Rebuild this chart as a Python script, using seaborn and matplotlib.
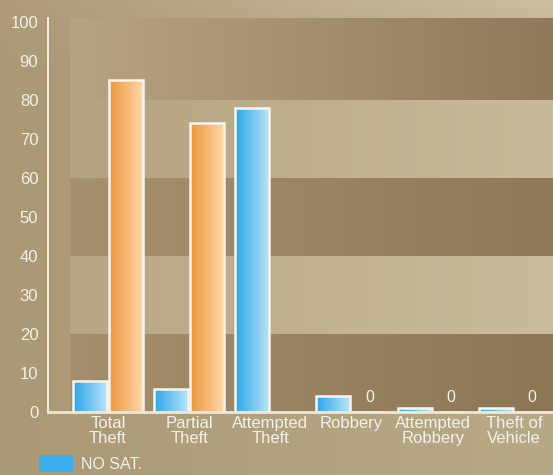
import numpy as np
import pandas as pd
import matplotlib
matplotlib.use("Agg")
import matplotlib.pyplot as plt
import seaborn as sns
from matplotlib.patches import Patch
from matplotlib.colors import to_rgb

# ---------------- data ----------------
categories = ["Total\nTheft", "Partial\nTheft", "Attempted\nTheft", "Robbery",
              "Attempted\nRobbery", "Theft of\nVehicle"]
series = ["NO SAT.", "SAT."]
no_sat = [8, 6, 78, 4, 1, 1]
sat = [85, 74, np.nan, 0, 0, 0]
yticks = [0, 10, 20, 30, 40, 50, 60, 70, 80, 90, 100]

df = pd.DataFrame({
    "category": categories * 2,
    "series": [series[0]] * len(categories) + [series[1]] * len(categories),
    "value": no_sat + sat,
})

# ---------------- style ----------------
sns.set_theme(style="white")
plt.rcParams["font.family"] = ["Liberation Sans", "DejaVu Sans"]
TEXT = "#f4f1e8"
FS = 11.5

W, H = 553, 475
fig = plt.figure(figsize=(W / 100, H / 100), dpi=100)


def lerp(c1, c2, t):
    a, b = np.array(to_rgb(c1)), np.array(to_rgb(c2))
    t = np.asarray(t)[..., None]
    return a * (1 - t) + b * t


# figure background gradient (lighter at top right)
bg = fig.add_axes([0, 0, 1, 1], zorder=-10)
yy, xx = np.mgrid[0:1:120j, 0:1:140j]
top = lerp("#ae9a77", "#cbbf9f", xx)
bot = lerp("#ab9875", "#b9aa87", xx)
ty = np.clip((yy - 0.85) / 0.15, 0, 1)
img = top * ty[..., None] + bot * (1 - ty[..., None])
bg.imshow(img, extent=(0, 1, 0, 1), origin="lower", aspect="auto")
bg.set_axis_off()

# main axes
x_left_px, x_right_px = 48, 553
y_bottom_px, y_top_px = 412, 18
ax = fig.add_axes([x_left_px / W, (H - y_bottom_px) / H,
                   (x_right_px - x_left_px) / W, (y_bottom_px - y_top_px) / H])
ax.set_facecolor("none")

# striped plot-area background
band_cols = [("#a48f6c", "#8d7655"), ("#b8a785", "#cabc9a"), ("#a6916e", "#8f7858"),
             ("#b4a381", "#c9bb99"), ("#b7a483", "#907959")]
ymax = 101
rows = np.linspace(0, ymax, 404)
cols = np.linspace(0, 1, 200)
band_img = np.zeros((len(rows), len(cols), 3))
for i, v in enumerate(rows):
    k = min(int(v // 20), 4)
    band_img[i] = lerp(band_cols[k][0], band_cols[k][1], cols)
ax.imshow(band_img, extent=(22 / 505, 1, 0, 1), origin="lower", aspect="auto",
          transform=ax.transAxes, zorder=0)

palette = {"NO SAT.": "#3aaeee", "SAT.": "#f4a656"}
sns.barplot(data=df, x="category", y="value", hue="series", palette=palette,
            order=categories, hue_order=series, width=0.9, gap=0.07,
            edgecolor="#f7f5ef", linewidth=1.8, legend=False, ax=ax, zorder=3)

grad = {"NO SAT.": ("#2ca7e8", "#b6e3fa"), "SAT.": ("#ef963c", "#fcd8a6")}
for container, name, vals in zip(ax.containers, series, [no_sat, sat]):
    for patch in container:
        if patch is None:
            continue
        h = patch.get_height()
        x0 = patch.get_x()
        w = patch.get_width()
        idx = int(round(x0 + w / 2))
        v = vals[idx]
        if np.isfinite(v) and v == 0:
            ax.annotate("0", (x0 + w / 2, 0), xytext=(0, 5), textcoords="offset points",
                        ha="center", va="bottom", color=TEXT, fontsize=FS)
        if not np.isfinite(h) or h <= 0:
            continue
        g = lerp(grad[name][0], grad[name][1], np.linspace(0, 1, 64))[None, :, :]
        im = ax.imshow(g, extent=(x0, x0 + w, 0, h), origin="lower",
                       aspect="auto", zorder=2.5)
        im.set_clip_path(patch)
        patch.set_facecolor("none")
        patch.set_zorder(3)

px_per_unit = 81.2
ax.set_xlim(-(108 - x_left_px) / px_per_unit, (x_right_px - 108) / px_per_unit)
ax.set_ylim(0, ymax)
ax.set_yticks(yticks)
ax.set_xlabel("")
ax.set_ylabel("")
ax.tick_params(axis="both", length=0, labelcolor=TEXT)
ax.tick_params(axis="y", pad=7, labelsize=12)
ax.tick_params(axis="x", pad=3, labelsize=12)
for lab in ax.get_xticklabels():
    lab.set_linespacing(1.0)

for s in ["top", "right"]:
    ax.spines[s].set_visible(False)
ax.spines["left"].set_color("#f2efe6")
ax.spines["left"].set_linewidth(1.4)
ax.spines["bottom"].set_color("#ece8de")
ax.spines["bottom"].set_linewidth(2)
ax.spines["left"].set_zorder(5)
ax.spines["bottom"].set_zorder(5)

# only the first legend entry is visible in the reference (the rest is cropped)
handles = [Patch(facecolor=palette[series[0]], edgecolor="none")]
fig.legend(handles, series[:1], loc="upper left", bbox_to_anchor=(39 / W, 20 / H),
           frameon=False, borderpad=0, borderaxespad=0, handlelength=2.1,
           handleheight=1.3, handletextpad=0.5, fontsize=FS, labelcolor=TEXT)

fig.savefig("out.png", dpi=100)
